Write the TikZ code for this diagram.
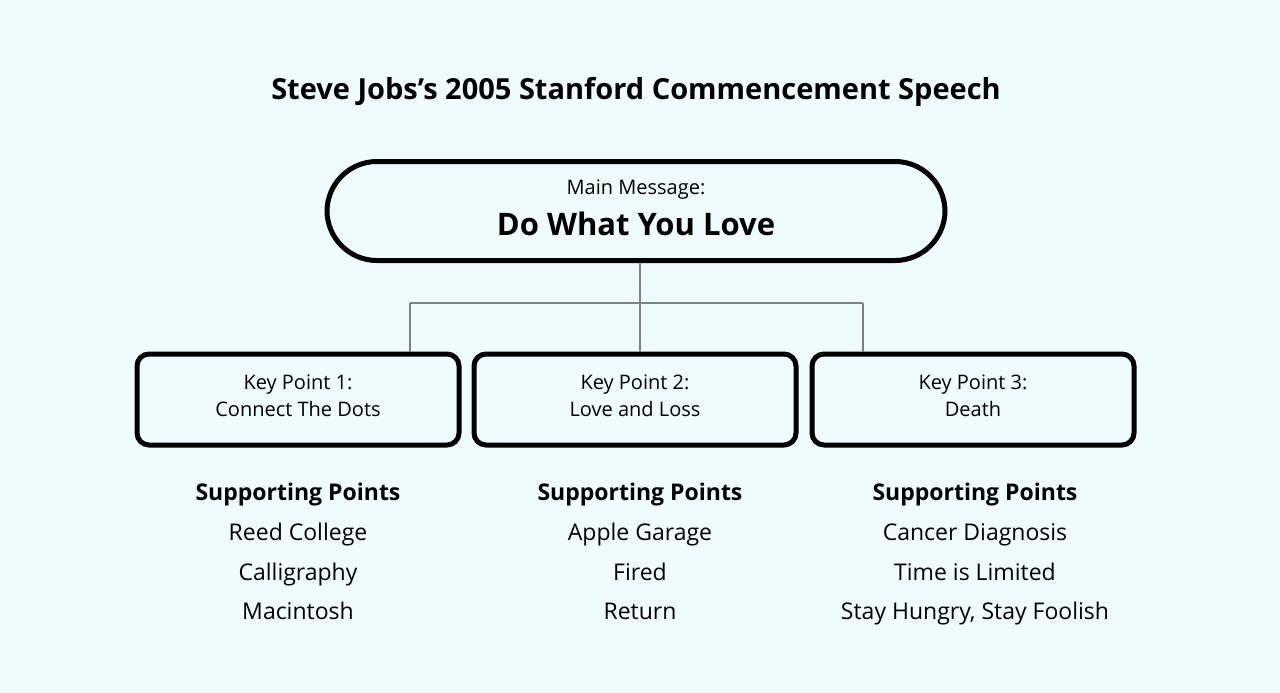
\documentclass[tikz,border=0pt]{standalone}
\usepackage{fontspec}
\setmainfont{Open Sans}
\definecolor{bgc}{HTML}{F0FBFD}
\definecolor{linec}{HTML}{808080}
\begin{document}
\begin{tikzpicture}[x=1pt,y=-1pt,
  keybox/.style={draw=black,line width=5pt,rounded corners=12pt,minimum width=322pt,minimum height=91pt,fill=bgc,inner sep=0pt},
  keytxt/.style={align=center,font=\fontsize{20}{27}\selectfont,inner sep=0pt},
  conn/.style={draw=linec,line width=1.3pt},
  sup/.style={font=\fontsize{23}{26}\selectfont,anchor=center,text height=16pt,text depth=5pt,inner sep=0pt},
  suph/.style={sup,font=\fontsize{23}{26}\selectfont\bfseries}]
\fill[bgc] (0,0) rectangle (1280,693);
\useasboundingbox (0,0) rectangle (1280,693);
\node[font=\fontsize{29}{32}\selectfont\bfseries] (title) at (636,92) {Steve Jobs’s 2005 Stanford Commencement Speech};
\node[draw=black,line width=5pt,rounded corners=50pt,minimum width=618pt,minimum height=99pt,fill=bgc,inner sep=0pt] (main) at (636,211) {};
\node[font=\fontsize{20}{24}\selectfont] (mm) at (636,190) {Main Message:};
\node[font=\fontsize{31}{36}\selectfont\bfseries] (dw) at (636,224) {Do What You Love};
\node[keybox] (k1) at (298,399.5) {};
\node[keybox] (k2) at (635,399.5) {};
\node[keybox] (k3) at (973,399.5) {};
\node[keytxt] (t1) at ([yshift=4pt]k1.center) {Key Point 1:\\Connect The Dots};
\node[keytxt] (t2) at ([yshift=4pt]k2.center) {Key Point 2:\\Love and Loss};
\node[keytxt] (t3) at ([yshift=4pt]k3.center) {Key Point 3:\\Death};
\coordinate (j) at (640,303);
\draw[conn] (main.south -| j) -- (k2.north -| j);
\draw[conn] (410,303) -- (863,303);
\draw[conn] (410,303) -- (k1.north -| 410,0);
\draw[conn] (863,303) -- (k3.north -| 863,0);
\node[suph] (s1) at (298,495) {Supporting Points};
\node[sup] (a1) at (298,535) {Reed College};
\node[sup] (a2) at (298,575) {Calligraphy};
\node[sup] (a3) at (298,614) {Macintosh};
\node[suph] (s2) at (640,495) {Supporting Points};
\node[sup] (b1) at (640,535) {Apple Garage};
\node[sup] (b2) at (640,575) {Fired};
\node[sup] (b3) at (640,614) {Return};
\node[suph] (s3) at (975,495) {Supporting Points};
\node[sup] (c1) at (975,535) {Cancer Diagnosis};
\node[sup] (c2) at (975,575) {Time is Limited};
\node[sup] (c3) at (975,614) {Stay Hungry, Stay Foolish};
\end{tikzpicture}
\end{document}
